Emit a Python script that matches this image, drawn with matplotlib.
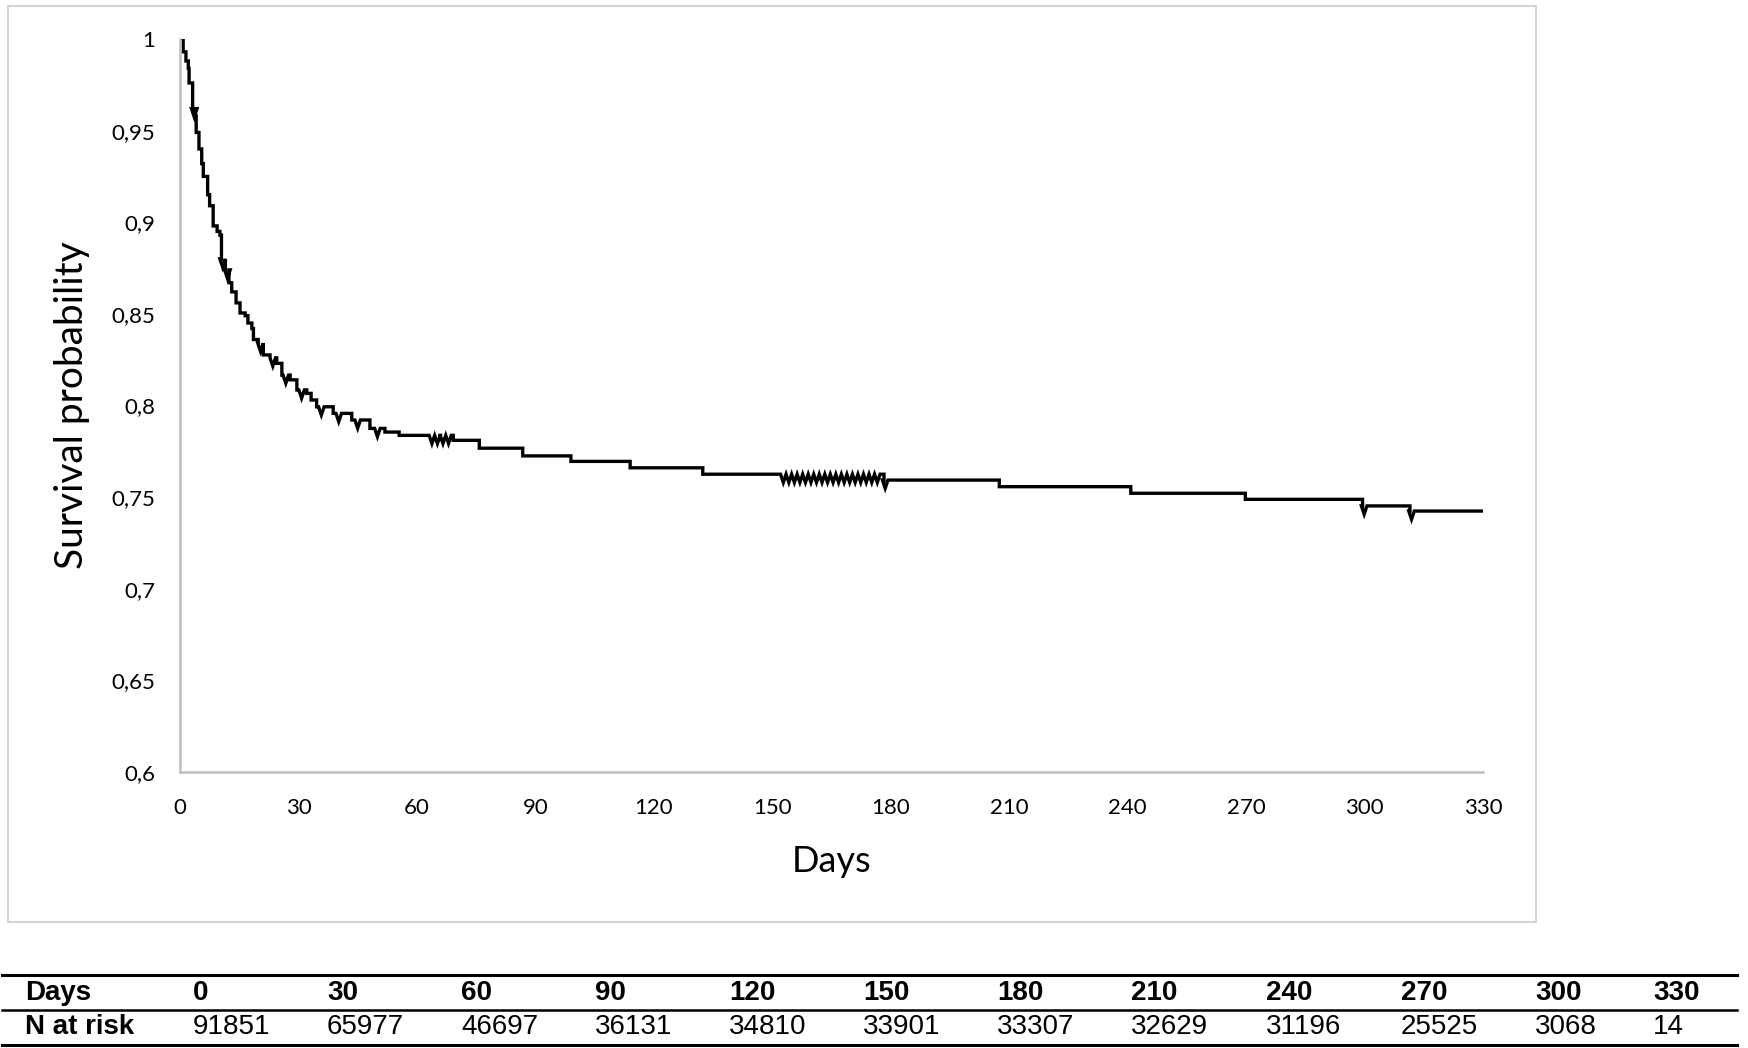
import matplotlib
matplotlib.use("Agg")
import matplotlib.pyplot as plt
from matplotlib.patches import Rectangle
from matplotlib.lines import Line2D

plt.rcParams['font.family'] = ['Lato', 'DejaVu Sans']

W, H = 1748, 1048

# Kaplan-Meier steps: day of the drop, survival after it
step_days = [0, 0.8, 1.5, 2.1, 2.3, 3.2, 3.9, 4.1, 4.8, 5.5, 5.9, 7.0, 7.5, 8.4,
             9.4, 10.1, 10.5, 11.5, 12.4, 13.1, 14.2, 15.2, 16.5, 17.2, 18.2,
             18.6, 19.8, 21.1, 22.8, 24.5, 25.8, 27.9, 29.6, 32.1, 33.2, 34.6,
             38.8, 43.5, 48.1, 51.9, 55.5, 69.2, 75.8, 86.8, 99.0, 114.0, 132.4,
             178.3, 207.5, 240.8, 269.8, 299.5, 311.5]
step_surv = [1.0, 0.993, 0.988, 0.984, 0.976, 0.962, 0.958, 0.949, 0.940, 0.932,
             0.925, 0.915, 0.909, 0.898, 0.895, 0.893, 0.880, 0.874, 0.867, 0.862,
             0.856, 0.8505, 0.849, 0.845, 0.842, 0.836, 0.834, 0.8276, 0.826, 0.823,
             0.8166, 0.814, 0.8085, 0.8066, 0.803, 0.7993, 0.7957, 0.7921, 0.7875,
             0.7855, 0.7837, 0.781, 0.7767, 0.7725, 0.7695, 0.766, 0.7625,
             0.7593, 0.7557, 0.7521, 0.7488, 0.7452, 0.7424]
end_day = 330

# censored observations (drawn as small dips on the curve)
censor_days = [3.6, 10.8, 12.0, 20.4, 23.5, 26.8, 30.8, 35.8, 40.2, 45.0, 50.0,
               63.8, 65.2, 66.6, 68.0,
               152.8, 154.2, 155.6, 157.0, 158.4, 159.8, 161.2, 162.6, 164.0,
               165.4, 166.8, 168.2, 169.6, 171.0, 172.4, 173.8, 175.2, 176.6,
               178.6, 299.9, 311.9]

xticks = [0, 30, 60, 90, 120, 150, 180, 210, 240, 270, 300, 330]
yticks = [0.6, 0.65, 0.7, 0.75, 0.8, 0.85, 0.9, 0.95, 1.0]
ytick_labels = ['0,6', '0,65', '0,7', '0,75', '0,8', '0,85', '0,9', '0,95', '1']

risk_days = ['0', '30', '60', '90', '120', '150', '180', '210', '240', '270', '300', '330']
n_at_risk = ['91851', '65977', '46697', '36131', '34810', '33901', '33307',
             '32629', '31196', '25525', '3068', '14']


def km_path(days, surv, end, censors, depth=0.0045, half=0.7):
    xs, ys = [], []
    for i in range(len(days)):
        d0 = days[i]
        d1 = days[i + 1] if i + 1 < len(days) else end
        s = surv[i]
        xs.append(d0)
        ys.append(s)
        for c in censors:
            if d0 <= c < d1:
                xs += [c - half, c, c + half]
                ys += [s, s - depth, s]
        xs.append(d1)
        ys.append(s)
    return xs, ys


def fx(x):
    return x / W


def fy(y):
    return 1 - y / H


fig = plt.figure(figsize=(W / 100, H / 100), dpi=100)

# light frame round the chart area
fig.add_artist(Rectangle((fx(8), fy(922)), fx(1536) - fx(8), fy(6) - fy(922),
                         transform=fig.transFigure, fill=False,
                         edgecolor='#d4d4d4', linewidth=1.5))

ax = fig.add_axes([fx(180), fy(772), fx(1483) - fx(180), fy(39) - fy(772)])
xs, ys = km_path(step_days, step_surv, end_day, censor_days)
ax.plot(xs, ys, color='black', linewidth=2.4, solid_joinstyle='miter')

ax.set_xlim(0, 330)
ax.set_ylim(0.6, 1.0)
ax.set_xticks(xticks)
ax.set_xticklabels([str(t) for t in xticks])
ax.set_yticks(yticks)
ax.set_yticklabels(ytick_labels)
ax.tick_params(length=0, labelsize=16, colors='black')
ax.tick_params(axis='y', pad=18)
ax.tick_params(axis='x', pad=19)
for side in ['top', 'right']:
    ax.spines[side].set_visible(False)
for side in ['left', 'bottom']:
    ax.spines[side].set_color('#bfbfbf')
    ax.spines[side].set_linewidth(1.8)

fig.text(fx(72), fy(405), 'Survival probability', rotation=90, fontsize=28,
         ha='center', va='center')
fig.text(fx(832), fy(862), 'Days', fontsize=26, ha='center', va='center')

# number at risk table
for y, lw in [(975, 2.2), (1010, 1.8), (1045, 2.2)]:
    fig.add_artist(Line2D([fx(2), fx(1737)], [fy(y), fy(y)],
                          transform=fig.transFigure, color='black', linewidth=lw))

col_x = [193, 327, 461, 595, 729, 863, 997, 1131, 1266, 1401, 1535, 1653]
tfont = ['Liberation Sans', 'DejaVu Sans']
fig.text(fx(25), fy(993), 'Days', fontsize=20, fontweight='bold',
         family=tfont, ha='left', va='center')
fig.text(fx(25), fy(1027), 'N at risk', fontsize=20, fontweight='bold',
         family=tfont, ha='left', va='center')
for x, d, n in zip(col_x, risk_days, n_at_risk):
    fig.text(fx(x), fy(993), d, fontsize=20, fontweight='bold', family=tfont,
             ha='left', va='center')
    fig.text(fx(x), fy(1027), n, fontsize=20, family=tfont,
             ha='left', va='center')

fig.savefig('out.png', dpi=100, facecolor='white')
